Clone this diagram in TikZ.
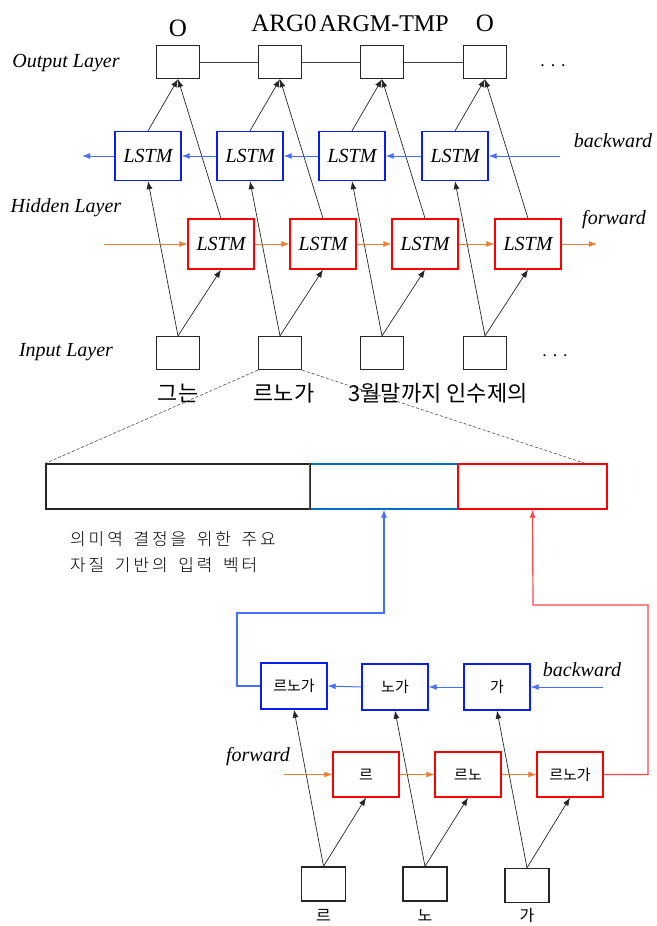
\documentclass[tikz,border=0pt]{standalone}
\usepackage{fontspec}
\setmainfont{Liberation Serif}
\newfontfamily\kr{Noto Sans CJK KR}
\newfontfamily\krsp[LetterSpace=17,WordSpace=1.6]{Noto Sans CJK KR Light}
\usetikzlibrary{arrows.meta}
\definecolor{boxblue}{RGB}{10,30,240}
\definecolor{arrblue}{RGB}{70,110,255}
\definecolor{barblue}{RGB}{0,112,192}
\definecolor{boxred}{RGB}{255,0,0}
\definecolor{arrorange}{RGB}{237,125,49}
\definecolor{pathred}{RGB}{255,70,70}
\begin{document}
\begin{tikzpicture}[x=1pt,y=-1pt,
  obox/.style={draw=black!85, line width=1.3pt, minimum width=43pt, minimum height=33pt, inner sep=0pt},
  bbox/.style={draw=boxblue, line width=1.3pt, minimum width=66pt, minimum height=49pt, inner sep=0pt, font=\fontsize{20}{22}\selectfont\itshape},
  rbox/.style={draw=boxred, line width=1.3pt, minimum width=66pt, minimum height=50pt, inner sep=0pt, font=\fontsize{20}{22}\selectfont\itshape},
  kbbox/.style={draw=boxblue, line width=1.3pt, minimum width=66pt, minimum height=46pt, inner sep=0pt, font=\kr\fontsize{15}{17}\selectfont},
  krbox/.style={draw=boxred, line width=1.3pt, minimum width=66pt, minimum height=45pt, inner sep=0pt, font=\kr\fontsize{15}{17}\selectfont},
  conn/.style={-{Latex[length=8pt,width=6pt]}, line width=0.7pt, black!85},
  barr/.style={-{Latex[length=8pt,width=6pt]}, line width=1pt, arrblue},
  oarr/.style={-{Latex[length=8pt,width=6pt]}, line width=1pt, arrorange},
  lbl/.style={font=\fontsize{20}{22}\selectfont\itshape, inner sep=0pt},
  tag/.style={font=\fontsize{25}{27}\selectfont, inner sep=0pt, anchor=base},
  kword/.style={font=\kr\fontsize{22}{24}\selectfont, inner sep=0pt},
  ksmall/.style={font=\kr\fontsize{16}{18}\selectfont, inner sep=0pt},
  kdesc/.style={font=\krsp\fontsize{17}{19}\selectfont, inner sep=0pt},
  dots/.style={font=\fontsize{18}{20}\selectfont, inner sep=0pt}
]
\useasboundingbox[fill=white] (0,0) rectangle (656,926);

% ---------- top network ----------
\foreach \n/\x in {1/178,2/280,3/382,4/485}{
  \node[obox] (o\n) at (\x,62) {};
  \node[bbox] (b\n) at (\x-30,156) {LSTM};
  \node[rbox] (r\n) at (\x+43,244) {LSTM};
  \node[obox] (i\n) at (\x,353) {};
}
% output chain
\draw[line width=0.8pt, black!75] (o1.east) -- (o2.west) (o2.east) -- (o3.west) (o3.east) -- (o4.west);
% connectors
\foreach \n in {1,2,3,4}{
  \draw[conn] (i\n.north) -- (b\n.south);
  \draw[conn] (i\n.north) -- (r\n.south);
  \draw[conn] (b\n.north) -- (o\n.south);
  \draw[conn] (r\n.north) -- (o\n.south);
}
% backward chain
\coordinate (bl) at (82,156);
\coordinate (br) at (560,156);
\draw[barr] (br) -- (b4.east);
\draw[barr] (b4.west) -- (b3.east);
\draw[barr] (b3.west) -- (b2.east);
\draw[barr] (b2.west) -- (b1.east);
\draw[barr] (b1.west) -- (bl);
% forward chain
\coordinate (fl) at (104,244);
\coordinate (fr) at (597,244);
\draw[oarr] (fl) -- (r1.west);
\draw[oarr] (r1.east) -- (r2.west);
\draw[oarr] (r2.east) -- (r3.west);
\draw[oarr] (r3.east) -- (r4.west);
\draw[oarr] (r4.east) -- (fr);

% labels
\node[lbl] (lout) at (66,63) {Output Layer};
\node[lbl] (lhid) at (66,208) {Hidden Layer};
\node[lbl] (linp) at (66,352) {Input Layer};
\node[lbl] (lback) at (613,141) {backward};
\node[lbl, anchor=west] (lfwd) at (582,220) {forward};
\node[dots] (dtop) at (553,66) {. . .};
\node[dots] (dbot) at (555,356) {. . .};
\node[tag] (t1) at (178,36) {O};
\node[tag] (t2) at (284,31) {ARG0};
\node[tag, font=\fontsize{24}{26}\selectfont] (t3) at (384,31) {ARGM-TMP};
\node[tag] (t4) at (485,31) {O};
\node[kword] (w1) at (178,393) {그는};
\node[kword] (w2) at (284,393) {르노가};
\node[kword] (w3) at (438,393) {3월말까지 인수제의};

% ---------- feature bar ----------
\node[draw=black!85, line width=1.3pt, minimum width=264pt, minimum height=45pt, inner sep=0pt] (bar1) at (178,486.5) {};
\node[draw=barblue, line width=1.1pt, minimum width=148pt, minimum height=45pt, inner sep=0pt] (bar2) at (384,486.5) {};
\node[draw=boxred, line width=1.3pt, minimum width=149pt, minimum height=45pt, inner sep=0pt] (bar3) at (532.5,486.5) {};
\draw[black!85, line width=1.3pt] (bar1.north east) -- (bar1.south east);
\coordinate (zr) at (587,464);
\draw[densely dashed, line width=0.6pt, black!70] (i2.south west) -- (bar1.north west);
\draw[densely dashed, line width=0.6pt, black!70] (i2.south east) -- (zr);
\node[kdesc, anchor=west] (d1) at (70,539) {의미역 결정을 위한 주요};
\node[kdesc, anchor=west] (d2) at (70,565) {자질 기반의 입력 벡터};

% ---------- character network ----------
\node[kbbox] (bb1) at (294,686) {르노가};
\node[kbbox] (bb2) at (395,687) {노가};
\node[kbbox] (bb3) at (497,687) {가};
\node[krbox] (rr1) at (366,774.5) {르};
\node[krbox] (rr2) at (468,774.5) {르노};
\node[krbox] (rr3) at (570,774.5) {르노가};
\node[obox, minimum width=44pt, minimum height=34pt] (ii1) at (323.5,884) {};
\node[obox, minimum width=44pt, minimum height=34pt] (ii2) at (425,884) {};
\node[obox, minimum width=44pt, minimum height=34pt] (ii3) at (527,885.5) {};
\node[ksmall] (c1) at (323.5,915) {르};
\node[ksmall] (c2) at (425,915) {노};
\node[ksmall] (c3) at (527,915) {가};
\foreach \n in {1,2,3}{
  \draw[conn] (ii\n.north) -- (bb\n.south);
  \draw[conn] (ii\n.north) -- (rr\n.south);
}
\coordinate (cbr) at (603,687);
\draw[barr] (cbr) -- (bb3.east);
\draw[barr] (bb3.west) -- (bb2.east);
\draw[barr] (bb2.west) -- (bb1.east);
\coordinate (cfl) at (284,774.5);
\draw[oarr] (cfl) -- (rr1.west);
\draw[oarr] (rr1.east) -- (rr2.west);
\draw[oarr] (rr2.east) -- (rr3.west);
\node[lbl] (clb) at (582,670) {backward};
\node[lbl] (clf) at (258,757) {forward};
% paths up to the bar
\coordinate (pb1) at (237,686);
\coordinate (pb2) at (237,613);
\coordinate (pb3) at (384,613);
\draw[-{Latex[length=8pt,width=6pt]}, line width=1.2pt, arrblue] (bb1.west) -- (pb1) -- (pb2) -- (pb3) -- (bar2.south);
\coordinate (pr1) at (648,774.5);
\coordinate (pr2) at (648,605);
\coordinate (pr3) at (533,605);
\draw[-{Latex[length=8pt,width=6pt]}, line width=1.2pt, pathred] (rr3.east) -- (pr1) -- (pr2) -- (pr3) -- (bar3.south);
\end{tikzpicture}
\end{document}
